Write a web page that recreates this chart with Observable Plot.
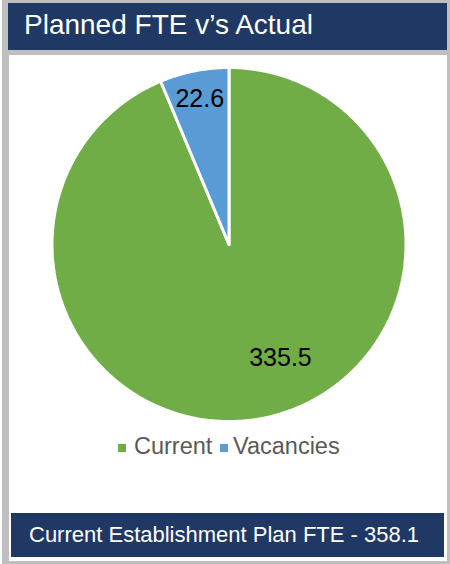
<!DOCTYPE html>
<html>
<head>
<meta charset="utf-8">
<script src="https://cdn.jsdelivr.net/npm/d3@7"></script>
<script src="https://cdn.jsdelivr.net/npm/@observablehq/plot@0.6"></script>
<style>
  html, body { margin: 0; padding: 0; background: #ffffff; }
  body { width: 450px; height: 564px; position: relative; overflow: hidden;
         font-family: "Liberation Sans", Arial, sans-serif; }
  .abs { position: absolute; }
  #frame { left: 2px; top: 0; width: 448px; height: 564px; background: #bfbfbf; }
  #titlebar { left: 8px; top: 3px; width: 439px; height: 47px; background: #1f3864; }
  #title { left: 24px; top: 0; color: #ffffff; font-size: 28px; line-height: 1; white-space: nowrap; }
  #panel { left: 9px; top: 55px; width: 438px; height: 506px; background: #ffffff; }
  #footer { left: 11px; top: 513px; width: 433px; height: 44px; background: #1f3864; }
  #footText { left: 29px; top: 0; color: #ffffff; font-size: 22px; line-height: 1; white-space: nowrap; }
  #chart { left: 0; top: 55px; }
  #legend { left: 0; top: 0; }
  .sw { position: absolute; width: 8px; height: 8px; }
  .lt { position: absolute; color: #595959; font-size: 23.5px; line-height: 1; white-space: nowrap; }
</style>
</head>
<body>
<div id="frame" class="abs"></div>
<div id="titlebar" class="abs"></div>
<div id="panel" class="abs"></div>
<div id="footer" class="abs"></div>
<div id="title" class="abs">Planned FTE v’s Actual</div>
<div id="footText" class="abs">Current Establishment Plan FTE - 358.1</div>
<div id="chart" class="abs"></div>
<div id="legend" class="abs"></div>
<script>
// ---- data ----
const categories = ["Current", "Vacancies"];
const values = [335.5, 22.6];
const colors = ["#70ad47", "#5b9bd5"];
const valueLabels = ["335.5", "22.6"];

// ---- layout constants ----
const CX = 228.5, CY = 244 - 55, R = 177;
const labelPlace = { Current: { angleDeg: 155.6, r: 0.704 }, Vacancies: { angleDeg: null, r: 0.84 } };

// place title/footer baselines
document.getElementById("title").style.top = (36 - 28 * 0.905) + "px";
document.getElementById("footText").style.top = (544 - 22 * 0.905) + "px";

// pie geometry (clockwise from 12 o'clock, unit circle)
const table = categories.map((c, i) => ({ cat: c, value: values[i], label: valueLabels[i] }));
const arcs = d3.pie().sort(null).value(d => d.value)(table);
const pts = [];
for (const a of arcs) {
  const n = Math.max(2, Math.ceil((a.endAngle - a.startAngle) / (Math.PI / 360)));
  pts.push({ cat: a.data.cat, x: 0, y: 0 });
  for (let k = 0; k <= n; k++) {
    const t = a.startAngle + (a.endAngle - a.startAngle) * k / n;
    pts.push({ cat: a.data.cat, x: Math.sin(t), y: Math.cos(t) });
  }
  pts.push({ cat: a.data.cat, x: 0, y: 0 });
}
const labels = arcs.map(a => {
  const p = labelPlace[a.data.cat];
  const ang = p.angleDeg == null ? (a.startAngle + a.endAngle) / 2 : p.angleDeg * Math.PI / 180;
  return { cat: a.data.cat, label: a.data.label, x: p.r * Math.sin(ang), y: p.r * Math.cos(ang) };
});

const chart = Plot.plot({
  width: 450,
  height: 380,
  margin: 0,
  x: { domain: [-1, 1], range: [CX - R, CX + R], axis: null },
  y: { domain: [-1, 1], range: [CY + R, CY - R], axis: null },
  color: { domain: categories, range: colors },
  style: { background: "transparent", fontFamily: "'Liberation Sans', Arial, sans-serif", overflow: "visible" },
  marks: [
    Plot.line(pts, { x: "x", y: "y", z: "cat", fill: "cat", stroke: "white", strokeWidth: 3, strokeLinejoin: "miter", curve: "linear" }),
    Plot.text(labels, { x: "x", y: "y", text: "label", fill: "black", fontSize: 25 })
  ]
});
document.getElementById("chart").appendChild(chart);

// legend (HTML) from the same arrays
const legend = document.getElementById("legend");
const legendItems = [
  { sw: 118, tx: 134 },
  { sw: 220, tx: 233 }
];
categories.forEach((c, i) => {
  const s = document.createElement("div");
  s.className = "sw";
  s.style.left = legendItems[i].sw + "px";
  s.style.top = "444px";
  s.style.background = colors[i];
  legend.appendChild(s);
  const t = document.createElement("div");
  t.className = "lt";
  t.textContent = c;
  t.style.left = legendItems[i].tx + "px";
  t.style.top = (456 - 23.5 * 0.905) + "px";
  legend.appendChild(t);
});
</script>
</body>
</html>
